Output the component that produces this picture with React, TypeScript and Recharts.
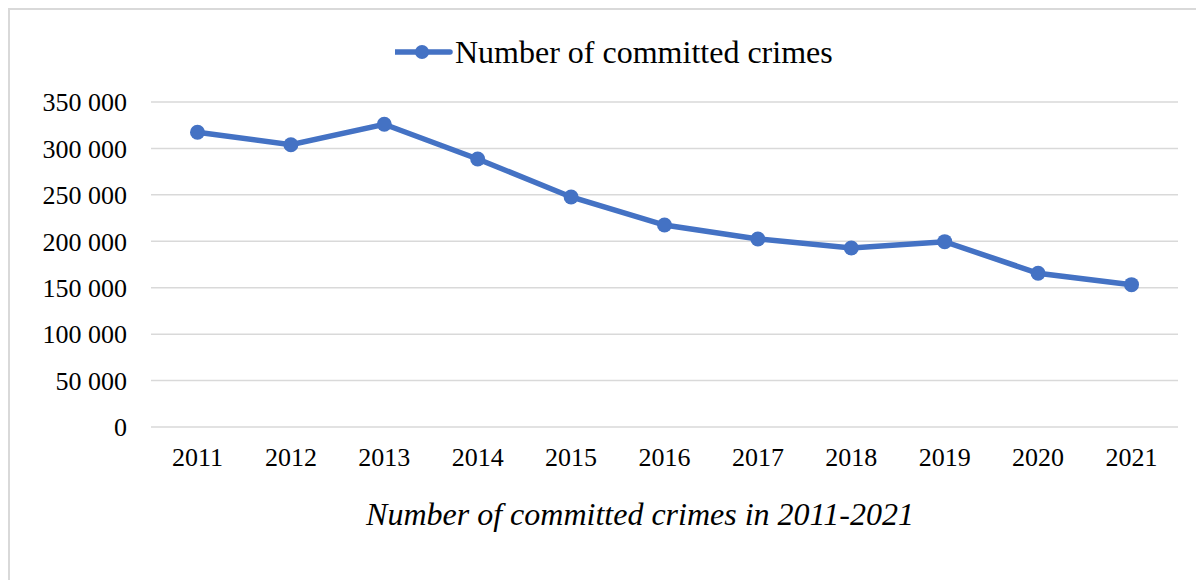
import React from "react";
import { LineChart, Line, XAxis, YAxis, CartesianGrid, Legend } from "recharts";

const years = ["2011", "2012", "2013", "2014", "2015", "2016", "2017", "2018", "2019", "2020", "2021"];
const crimes = [317400, 304000, 326000, 288600, 247700, 217500, 202500, 192800, 199600, 165500, 153300];
const yTicks = [0, 50000, 100000, 150000, 200000, 250000, 300000, 350000];

const seriesName = "Number of committed crimes";
const chartTitle = "Number of committed crimes in 2011-2021";

const data = years.map((y, i) => ({ year: y, value: crimes[i] }));

const FONT = "Liberation Serif";
const BLUE = "#4472C4";

const fmt = (v: number) => String(v).replace(/\B(?=(\d{3})+(?!\d))/g, " ");

const XTick = (props: any) => {
  const { x, y, payload } = props;
  return (
    <text x={x} y={y} dy="0.71em" textAnchor="middle" fill="#000" style={{ fontFamily: FONT, fontSize: 26 }}>
      {payload.value}
    </text>
  );
};

const YTick = (props: any) => {
  const { x, y, payload } = props;
  return (
    <text x={x} y={y} dy="0.355em" textAnchor="end" fill="#000" style={{ fontFamily: FONT, fontSize: 26 }}>
      {fmt(payload.value)}
    </text>
  );
};

const LegendContent = () => (
  <div style={{ display: "flex", alignItems: "center", height: 32, fontFamily: FONT, fontSize: 32, lineHeight: "32px", color: "#000" }}>
    <svg width={60} height={32} style={{ display: "block" }}>
      <line x1={0} y1={16} x2={55} y2={16} stroke={BLUE} strokeWidth={5.5} strokeLinecap="round" />
      <circle cx={27} cy={16} r={7} fill={BLUE} />
    </svg>
    <span style={{ whiteSpace: "nowrap" }}>{seriesName}</span>
  </div>
);

export default function App() {
  return (
    <div
      style={{
        position: "relative",
        width: 1196,
        height: 572,
        boxSizing: "border-box",
        borderLeft: "2px solid #d9d9d9",
        borderTop: "2px solid #d9d9d9",
        background: "#fff",
        fontFamily: FONT,
      }}
    >
      <div style={{ position: "absolute", left: 0, top: 0 }}>
        <LineChart width={1194} height={570} data={data} margin={{ top: 60, right: 26, left: 0, bottom: 113 }} style={{ fontFamily: FONT }}>
          <CartesianGrid horizontal vertical={false} stroke="#d9d9d9" strokeWidth={1.5} />
          <XAxis
            dataKey="year"
            axisLine={false}
            tickLine={false}
            tickSize={0}
            tickMargin={21}
            padding={{ left: 46.5, right: 46.5 }}
            height={40}
            tick={<XTick />}
          />
          <YAxis
            domain={[0, 350000]}
            ticks={yTicks}
            axisLine={false}
            tickLine={false}
            tickSize={0}
            tickMargin={24}
            width={141}
            tick={<YTick />}
          />
          <Legend
            verticalAlign="top"
            height={32}
            content={<LegendContent />}
            wrapperStyle={{ position: "absolute", left: 385, top: 26, width: "auto" }}
          />
          <Line
            type="linear"
            dataKey="value"
            name={seriesName}
            stroke={BLUE}
            strokeWidth={5.5}
            dot={{ r: 7.5, fill: BLUE, stroke: "none" }}
            activeDot={false}
            isAnimationActive={false}
          />
        </LineChart>
      </div>
      <div
        style={{
          position: "absolute",
          left: 330,
          top: 488,
          width: 600,
          textAlign: "center",
          fontFamily: FONT,
          fontStyle: "italic",
          fontSize: 32,
          lineHeight: "32px",
          color: "#000",
          whiteSpace: "nowrap",
        }}
      >
        {chartTitle}
      </div>
    </div>
  );
}
